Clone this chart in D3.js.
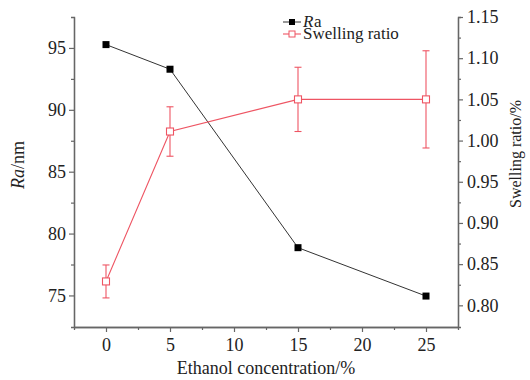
<!DOCTYPE html>
<html>
<head>
<meta charset="utf-8">
<script src="https://cdn.jsdelivr.net/npm/d3@7"></script>
<style>
  body { margin: 0; background: #fff; }
  svg text { font-family: "Liberation Serif", "DejaVu Serif", serif; fill: #222; }
</style>
</head>
<body>
<div id="chart"></div>
<script>
const concentration = [0, 5, 15, 25];
const ra = [95.27, 93.28, 78.86, 74.95];
const swelling = [0.829, 1.011, 1.05, 1.05];
const swellingErr = [0.020, 0.030, 0.039, 0.059];
const xTicks = [0, 5, 10, 15, 20, 25];
const raTicks = [75, 80, 85, 90, 95];
const swTicks = [0.80, 0.85, 0.90, 0.95, 1.00, 1.05, 1.10, 1.15];

const width = 530, height = 380;
const plotLeft = 74, plotRight = 458, plotTop = 17, plotBottom = 327;
const axisColor = '#666';
const blackColor = '#333';
const redColor = '#ee5563';
const fontStack = '"Liberation Serif", "DejaVu Serif", serif';

const svg = d3.select('#chart').append('svg')
  .attr('width', width)
  .attr('height', height)
  .style('font-family', fontStack);

const x = d3.scaleLinear().domain([-2.5, 27.5]).range([plotLeft, plotRight]);
const yL = d3.scaleLinear().domain([72.45, 97.5]).range([plotBottom, plotTop]);
const yR = d3.scaleLinear().domain([0.7737, 1.15]).range([plotBottom, plotTop]);

// axes
function styleAxis(g) {
  g.attr('font-family', null).attr('font-size', null);
  g.selectAll('path').attr('stroke', axisColor).attr('stroke-width', 1.3);
  g.selectAll('line').attr('stroke', axisColor).attr('stroke-width', 1.2);
  g.selectAll('text').style('font-size', '18px').style('font-family', fontStack).attr('fill', '#222');
}

// minor ticks
const gxMinor = svg.append('g')
  .attr('transform', `translate(0,${plotBottom})`)
  .call(d3.axisBottom(x).tickValues([2.5, 7.5, 12.5, 17.5, 22.5]).tickSize(3).tickFormat(''));
styleAxis(gxMinor);
const gyLMinor = svg.append('g')
  .attr('transform', `translate(${plotLeft},0)`)
  .call(d3.axisLeft(yL).tickValues([77.5, 82.5, 87.5, 92.5]).tickSize(3).tickFormat(''));
styleAxis(gyLMinor);
const gyRMinor = svg.append('g')
  .attr('transform', `translate(${plotRight},0)`)
  .call(d3.axisRight(yR).tickValues([0.825, 0.875, 0.925, 0.975, 1.025, 1.075, 1.125]).tickSize(3).tickFormat(''));
styleAxis(gyRMinor);

const gx = svg.append('g')
  .attr('transform', `translate(0,${plotBottom})`)
  .call(d3.axisBottom(x).tickValues(xTicks).tickSize(5).tickPadding(5).tickSizeOuter(0));
styleAxis(gx);
gx.selectAll('text').attr('dy', '0.8em');

const gyL = svg.append('g')
  .attr('transform', `translate(${plotLeft},0)`)
  .call(d3.axisLeft(yL).tickValues(raTicks).tickSize(5).tickPadding(3).tickSizeOuter(0));
styleAxis(gyL);

const gyR = svg.append('g')
  .attr('transform', `translate(${plotRight},0)`)
  .call(d3.axisRight(yR).tickValues(swTicks).tickFormat(d3.format('.2f')).tickSize(5).tickPadding(4).tickSizeOuter(0));
styleAxis(gyR);

// axis titles
svg.append('text')
  .attr('x', 266)
  .attr('y', 374)
  .attr('text-anchor', 'middle')
  .style('font-size', '18px')
  .text('Ethanol concentration/%');

const yLabel = svg.append('text')
  .attr('transform', 'translate(24,165) rotate(-90)')
  .attr('text-anchor', 'middle')
  .style('font-size', '18px');
yLabel.append('tspan').attr('font-style', 'italic').text('Ra');
yLabel.append('tspan').text('/nm');

svg.append('text')
  .attr('transform', 'translate(521,154) rotate(-90)')
  .attr('text-anchor', 'middle')
  .style('font-size', '16px')
  .text('Swelling ratio/%');

// Ra series
const raPts = concentration.map((c, i) => [c, ra[i]]);
svg.append('path')
  .datum(raPts)
  .attr('fill', 'none')
  .attr('stroke', blackColor)
  .attr('stroke-width', 1)
  .attr('d', d3.line().x(d => x(d[0])).y(d => yL(d[1])));
svg.selectAll('rect.ra')
  .data(raPts)
  .enter()
  .append('rect')
  .attr('class', 'ra')
  .attr('x', d => x(d[0]) - 3.5)
  .attr('y', d => yL(d[1]) - 3.5)
  .attr('width', 7)
  .attr('height', 7)
  .attr('fill', '#000');

// swelling series
const swPts = concentration.map((c, i) => ({ c: c, v: swelling[i], e: swellingErr[i] }));
const errG = svg.append('g').attr('stroke', redColor).attr('stroke-width', 1.1);
swPts.forEach(function (d) {
  const cx = x(d.c);
  errG.append('line').attr('x1', cx).attr('x2', cx).attr('y1', yR(d.v - d.e)).attr('y2', yR(d.v + d.e));
  errG.append('line').attr('x1', cx - 3.5).attr('x2', cx + 3.5).attr('y1', yR(d.v - d.e)).attr('y2', yR(d.v - d.e));
  errG.append('line').attr('x1', cx - 3.5).attr('x2', cx + 3.5).attr('y1', yR(d.v + d.e)).attr('y2', yR(d.v + d.e));
});
svg.append('path')
  .datum(swPts)
  .attr('fill', 'none')
  .attr('stroke', redColor)
  .attr('stroke-width', 1.1)
  .attr('d', d3.line().x(d => x(d.c)).y(d => yR(d.v)));
svg.selectAll('rect.sw')
  .data(swPts)
  .enter()
  .append('rect')
  .attr('class', 'sw')
  .attr('x', d => x(d.c) - 3.5)
  .attr('y', d => yR(d.v) - 3.5)
  .attr('width', 7)
  .attr('height', 7)
  .attr('fill', '#fff')
  .attr('stroke', redColor)
  .attr('stroke-width', 1.1);

// legend
const legend = svg.append('g').attr('transform', 'translate(283,0)');
legend.append('line').attr('x1', 0).attr('x2', 18).attr('y1', 22).attr('y2', 22)
  .attr('stroke', blackColor).attr('stroke-width', 1);
legend.append('rect').attr('x', 6).attr('y', 19).attr('width', 6).attr('height', 6).attr('fill', '#000');
const legR = legend.append('text').attr('x', 20).attr('y', 27).style('font-size', '17px')
  .attr('font-style', 'italic').text('R');
legend.append('text').attr('x', 20 + legR.node().getComputedTextLength() + 0.5).attr('y', 27)
  .style('font-size', '17px').text('a');

legend.append('line').attr('x1', 0).attr('x2', 18).attr('y1', 34).attr('y2', 34)
  .attr('stroke', redColor).attr('stroke-width', 1.1);
legend.append('rect').attr('x', 6).attr('y', 31).attr('width', 6).attr('height', 6)
  .attr('fill', '#fff').attr('stroke', redColor).attr('stroke-width', 1);
legend.append('text').attr('x', 20).attr('y', 39).style('font-size', '17px').text('Swelling ratio');
</script>
</body>
</html>
